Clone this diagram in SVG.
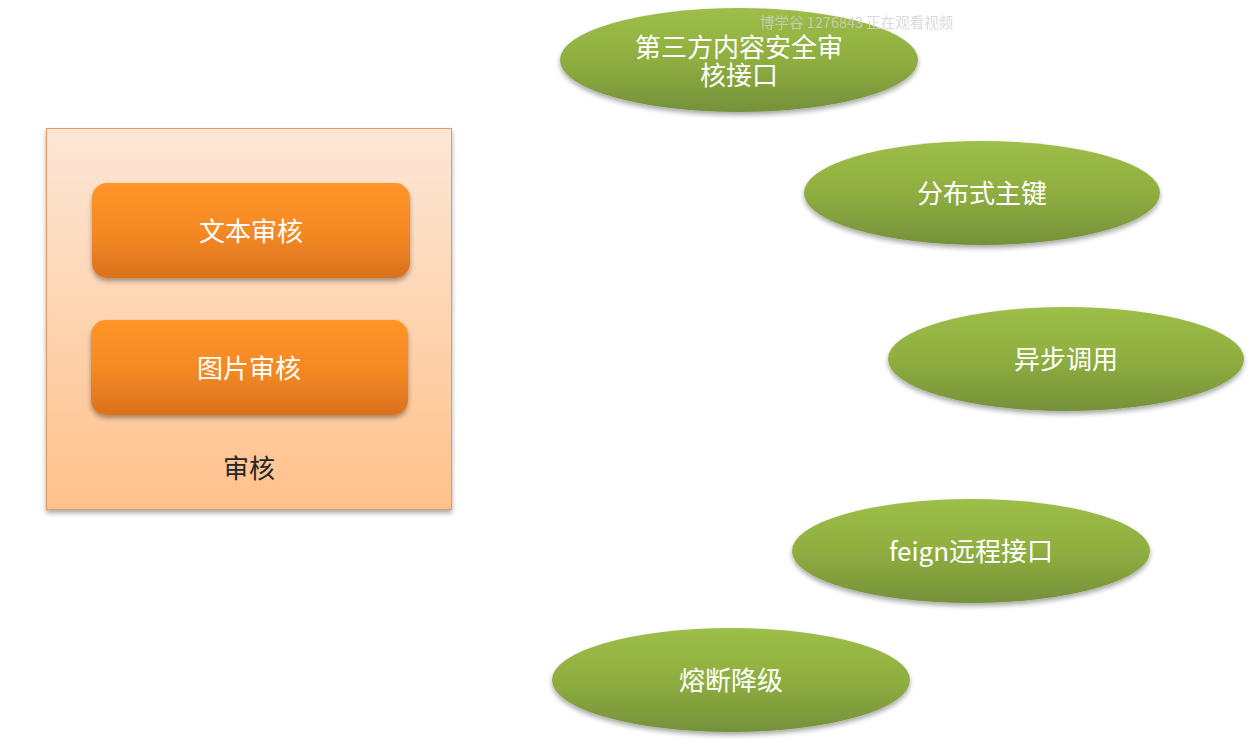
<svg xmlns="http://www.w3.org/2000/svg" width="1258" height="748" viewBox="0 0 1258 748">
<style>
.lbl{font-family:"Noto Sans CJK SC","Liberation Sans",sans-serif;font-size:26px;fill:#ffffff;text-anchor:middle;dominant-baseline:central}
.dark{fill:#262626}
.wm{font-family:"Noto Sans CJK SC","Liberation Sans",sans-serif;font-size:14.5px;fill:#d0d0d0;opacity:0.8}
.ell{fill:url(#gGreen);filter:url(#sh)}
.btn{fill:url(#gOrange);filter:url(#sh)}
</style>
<defs>
<linearGradient id="gBox" x1="0" y1="0" x2="0" y2="1">
<stop offset="0" stop-color="#FDE7D6"/>
<stop offset="1" stop-color="#FFC18B"/>
</linearGradient>
<linearGradient id="gOrange" x1="0" y1="0" x2="0" y2="1">
<stop offset="0" stop-color="#FF9429"/>
<stop offset="0.5" stop-color="#F58A24"/>
<stop offset="1" stop-color="#DA711D"/>
</linearGradient>
<linearGradient id="gGreen" x1="0" y1="0" x2="0" y2="1">
<stop offset="0" stop-color="#9DBE48"/>
<stop offset="0.5" stop-color="#8FAE40"/>
<stop offset="1" stop-color="#75913A"/>
</linearGradient>
<filter id="sh" x="-10%" y="-20%" width="120%" height="150%">
<feGaussianBlur in="SourceAlpha" stdDeviation="2.5"/>
<feOffset dx="0" dy="3" result="b"/>
<feComponentTransfer><feFuncA type="linear" slope="0.35"/></feComponentTransfer>
<feMerge><feMergeNode/><feMergeNode in="SourceGraphic"/></feMerge>
</filter>
</defs>
<rect width="1258" height="748" fill="#ffffff"/>
<g id="audit">
<rect x="46.5" y="128.5" width="405" height="381" fill="url(#gBox)" stroke="#E49A62" stroke-width="1" filter="url(#sh)"/>
<text class="lbl dark" x="249" y="466">审核</text>
</g>
<g id="text-audit">
<rect class="btn" x="92" y="183" width="318" height="95" rx="15"/>
<text class="lbl" x="251" y="229">文本审核</text>
</g>
<g id="image-audit">
<rect class="btn" x="91" y="320" width="317" height="95" rx="15"/>
<text class="lbl" x="249" y="366">图片审核</text>
</g>
<g id="third-party">
<ellipse class="ell" cx="739" cy="60" rx="179" ry="52"/>
<text class="lbl" x="739" y="45">第三方内容安全审</text>
<text class="lbl" x="739" y="73">核接口</text>
</g>
<g id="distributed-key">
<ellipse class="ell" cx="982" cy="193" rx="178" ry="52"/>
<text class="lbl" x="982" y="191">分布式主键</text>
</g>
<g id="async-call">
<ellipse class="ell" cx="1066" cy="359" rx="178" ry="52"/>
<text class="lbl" x="1066" y="357">异步调用</text>
</g>
<g id="feign">
<ellipse class="ell" cx="971" cy="551" rx="179" ry="52"/>
<text class="lbl" x="971" y="549">feign远程接口</text>
</g>
<g id="circuit-breaker">
<ellipse class="ell" cx="731" cy="680" rx="179" ry="52"/>
<text class="lbl" x="731" y="678">熔断降级</text>
</g>
<g id="connectors"/>
<text class="wm" x="760" y="28">博学谷 1276843 正在观看视频</text>
</svg>
